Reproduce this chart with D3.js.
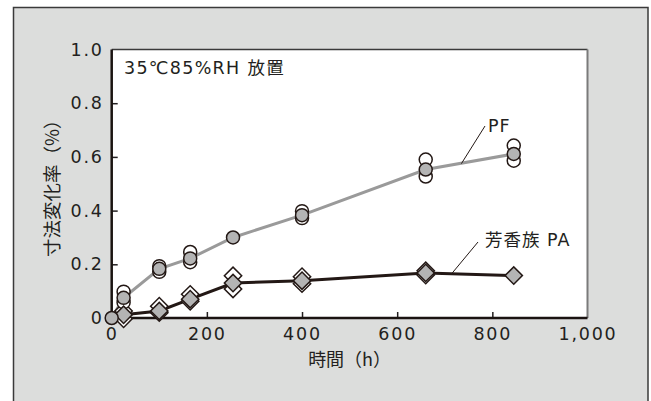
<!DOCTYPE html>
<html>
<head>
<meta charset="utf-8">
<script src="https://cdn.jsdelivr.net/npm/d3@7"></script>
<style>
  body { margin: 0; background: #fff; }
  svg { display: block; }
  text { fill: #231f20; font-family: "DejaVu Sans", "Noto Sans CJK JP", sans-serif; }
  .cjk { font-family: "Noto Sans CJK JP", sans-serif; }
</style>
</head>
<body>
<div id="chart"></div>
<script>
// time (h) and dimensional change (%)
const hours = [0, 25, 100, 165, 255, 400, 660, 845];
const pfMean = [0, 0.075, 0.183, 0.222, 0.300, 0.383, 0.553, 0.611];
const pfSamples = [
    [], [0.098, 0.058], [0.193, 0.172], [0.246, 0.208], [], [0.398, 0.372], [0.590, 0.527], [0.642, 0.586]
];
const paMean = [0, 0.012, 0.026, 0.070, 0.130, 0.139, 0.168, 0.158];
const paSamples = [
    [], [0.026, -0.003], [0.044, 0.020], [0.088, 0.062], [0.157, 0.108], [0.154, 0.128], [0.176, 0.160], []
];
const xTicks = [0, 200, 400, 600, 800, 1000];
const xTickLabels = ['0', '200', '400', '600', '800', '1,000'];
const yTicks = [0, 0.2, 0.4, 0.6, 0.8, 1.0];
const yTickLabels = ['0', '0.2', '0.4', '0.6', '0.8', '1.0'];

const width = 651, height = 401;
const margin = [49.5, 83, 111.7, 63.5]; // top, bottom, left, right

const svg = d3.select('#chart')
    .append('svg')
    .attr('width', width)
    .attr('height', height);

// grey panel behind everything
svg.append('rect')
    .attr('x', 13.5).attr('y', 7.5)
    .attr('width', 634.5).attr('height', 410)
    .attr('fill', '#dcdddc')
    .attr('stroke', '#3a3a3a')
    .attr('stroke-width', 1.5);

const x = d3.scaleLinear([0, 1000], [margin[2], width - margin[3]]);
const y = d3.scaleLinear([0, 1], [height - margin[1], margin[0]]);

// plot area
svg.append('rect')
    .attr('x', x(0)).attr('y', y(1))
    .attr('width', x(1000) - x(0)).attr('height', y(0) - y(1))
    .attr('fill', '#fff');
svg.append('line')
    .attr('x1', x(0)).attr('x2', x(1000)).attr('y1', y(1)).attr('y2', y(1))
    .attr('stroke', '#3a3a3a').attr('stroke-width', 1.5);
svg.append('line')
    .attr('x1', x(1000)).attr('x2', x(1000)).attr('y1', y(1)).attr('y2', y(0))
    .attr('stroke', '#7a7a7a').attr('stroke-width', 2);

// axes, ticks pointing inward
const xAxis = svg.append('g')
    .attr('transform', `translate(0, ${y(0)})`)
    .call(d3.axisBottom(x).tickValues(xTicks).tickSize(-6).tickPadding(10)
        .tickFormat((d, i) => xTickLabels[i]));
const yAxis = svg.append('g')
    .attr('transform', `translate(${x(0)}, 0)`)
    .call(d3.axisLeft(y).tickValues(yTicks).tickSize(-6).tickPadding(8)
        .tickFormat((d, i) => yTickLabels[i]));

[xAxis, yAxis].forEach(g => {
    g.select('.domain').remove();
    g.selectAll('.tick line').attr('stroke', '#231f20').attr('stroke-width', 1.5);
    g.selectAll('.tick text')
        .attr('fill', '#231f20')
        .style('font-size', '17.5px')
        .style('letter-spacing', '1.8px');
});
xAxis.selectAll('.tick').filter(d => d === 0 || d === 1000).select('line').remove();
yAxis.selectAll('.tick').filter(d => d === 0 || d === 1).select('line').remove();

svg.append('path')
    .attr('d', `M${x(0)},${y(1)}V${y(0)}H${x(1000)}`)
    .attr('fill', 'none')
    .attr('stroke', '#1a1311')
    .attr('stroke-width', 2.5);

// axis titles
svg.append('text')
    .attr('class', 'cjk')
    .attr('x', (x(0) + x(1000)) / 2)
    .attr('y', 366)
    .attr('text-anchor', 'middle')
    .style('font-size', '18px')
    .text('時間（h）');

svg.append('text')
    .attr('class', 'cjk')
    .attr('transform', `translate(59, ${(y(0) + y(1)) / 2}) rotate(-90)`)
    .attr('text-anchor', 'middle')
    .style('font-size', '18.5px')
    .text('寸法変化率（%）');

svg.append('text')
    .attr('x', 124)
    .attr('y', 74)
    .style('font-size', '17.5px')
    .style('letter-spacing', '1.3px')
    .text('35℃85%RH 放置');

// lines
const line = d3.line().x(d => x(d.t)).y(d => y(d.v));
const pf = hours.map((t, i) => ({ t, v: pfMean[i] }));
const pa = hours.map((t, i) => ({ t, v: paMean[i] }));

svg.append('path').datum(pa)
    .attr('d', line)
    .attr('fill', 'none').attr('stroke', '#231815').attr('stroke-width', 3);
svg.append('path').datum(pf)
    .attr('d', line)
    .attr('fill', 'none').attr('stroke', '#9a9a9a').attr('stroke-width', 3);

// single samples (open markers)
const diamond = d3.symbol().type(d3.symbolSquare).size(150);
const paOpen = hours.flatMap((t, i) => paSamples[i].map(v => ({ t, v })));
const pfOpen = hours.flatMap((t, i) => pfSamples[i].map(v => ({ t, v })));

svg.append('g').selectAll('path')
    .data(paOpen)
    .join('path')
    .attr('d', diamond)
    .attr('transform', d => `translate(${x(d.t)}, ${y(d.v)}) rotate(45)`)
    .attr('fill', '#fff').attr('stroke', '#231815').attr('stroke-width', 1.5);

svg.append('g').selectAll('circle')
    .data(pfOpen)
    .join('circle')
    .attr('cx', d => x(d.t)).attr('cy', d => y(d.v)).attr('r', 6.5)
    .attr('fill', '#fff').attr('stroke', '#231815').attr('stroke-width', 1.5);

// averages (grey markers)
svg.append('g').selectAll('path')
    .data(pa.filter(d => d.t > 0))
    .join('path')
    .attr('d', diamond)
    .attr('transform', d => `translate(${x(d.t)}, ${y(d.v)}) rotate(45)`)
    .attr('fill', '#b4b4b4').attr('stroke', '#231815').attr('stroke-width', 1.5);

svg.append('g').selectAll('circle')
    .data(pf)
    .join('circle')
    .attr('cx', d => x(d.t)).attr('cy', d => y(d.v)).attr('r', 6.5)
    .attr('fill', '#b4b4b4').attr('stroke', '#231815').attr('stroke-width', 1.5);

// series labels with leader lines
svg.append('line')
    .attr('x1', 485).attr('y1', 126).attr('x2', x(735)).attr('y2', y(0.575))
    .attr('stroke', '#231815').attr('stroke-width', 1);
svg.append('text')
    .attr('x', 488).attr('y', 132)
    .style('font-size', '17.5px')
    .style('letter-spacing', '1px')
    .text('PF');

svg.append('line')
    .attr('x1', 478).attr('y1', 242).attr('x2', x(715)).attr('y2', y(0.166))
    .attr('stroke', '#231815').attr('stroke-width', 1);
svg.append('text')
    .attr('x', 485).attr('y', 246)
    .style('font-size', '17.5px')
    .style('letter-spacing', '1px')
    .text('芳香族 PA');
</script>
</body>
</html>
